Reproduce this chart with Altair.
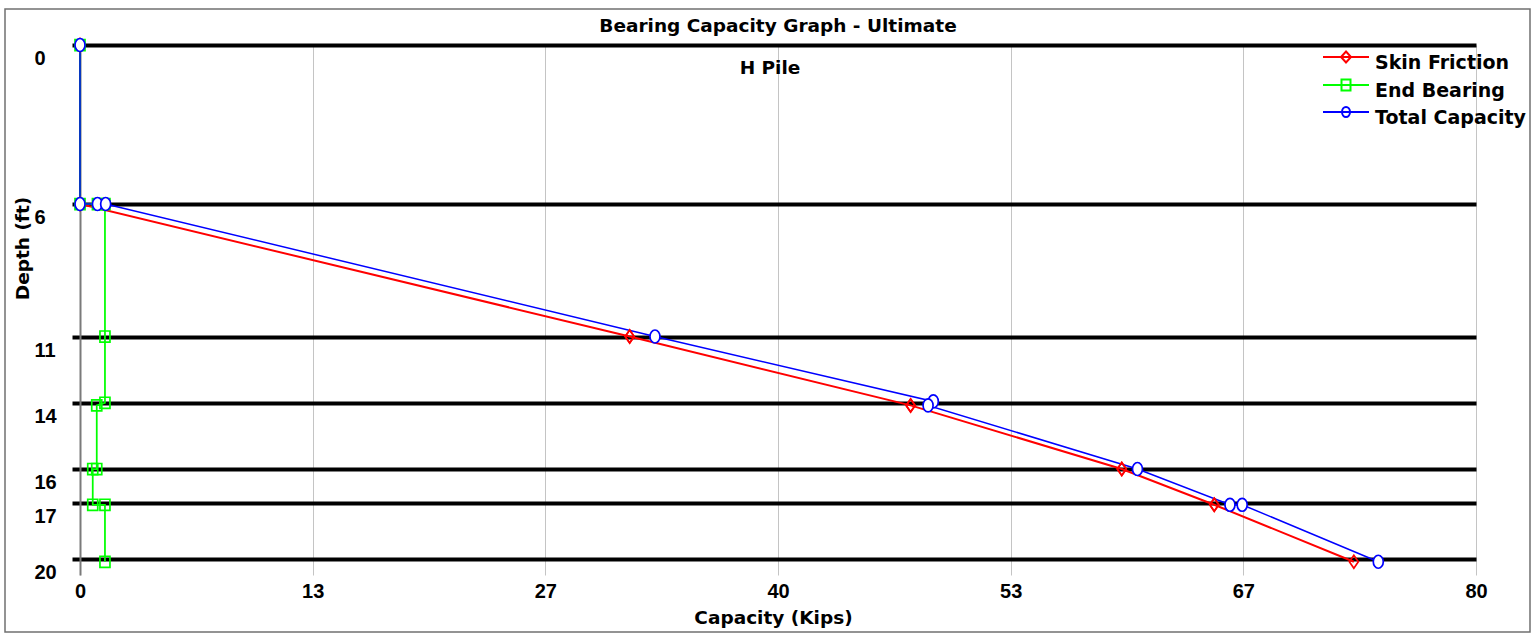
import altair as alt
import pandas as pd

title_text = "Bearing Capacity Graph - Ultimate"
subtitle_text = "H Pile"
x_title = "Capacity (Kips)"
y_title = "Depth (ft)"

series_names = ["Skin Friction", "End Bearing", "Total Capacity"]
series_colors = ["#ff0000", "#00ff00", "#0000ff"]

# soil layer boundaries (ft) and the labels printed for them
layer_depths = [0, 6, 11, 13.5, 16, 17.3, 19.4]
layer_labels = ["0", "6", "11", "14", "16", "17", "20"]

x_ticks = [0, 13.333, 26.667, 40, 53.333, 66.667, 80]

skin_depth = [0, 6, 11, 11, 13.6, 13.6, 16, 16, 17.35, 17.35, 19.5]
skin_kips = [0, 0, 31.5, 31.5, 47.6, 47.6, 59.7, 59.7, 65.0, 65.0, 73.0]

end_depth = [0, 6, 6, 6, 11, 13.5, 13.6, 16, 16, 17.35, 17.35, 19.5]
end_kips = [0, 0, 1.0, 1.43, 1.43, 1.43, 0.96, 0.96, 0.73, 0.73, 1.43, 1.43]

total_depth = [0, 6, 6, 6, 11, 13.45, 13.6, 16, 17.35, 17.35, 19.5]
total_kips = [0, 0, 1.0, 1.47, 32.95, 48.9, 48.6, 60.6, 65.9, 66.6, 74.4]

# marker outlines (diamond, square, ellipse) and legend symbols (line + marker)
marker_paths = [
    "M0,-1L0.69,0L0,1L-0.69,0Z",
    "M-0.77,-0.85H0.77V0.85H-0.77Z",
    "M0,-1A0.77,1 0 1 1 0,1A0.77,1 0 1 1 0,-1Z",
]
legend_paths = [
    "M-2.3,-0.6H2.3M0,-1.15L0.5,-0.6L0,-0.05L-0.5,-0.6Z",
    "M-2.3,-0.6H2.3M-0.45,-1.15H0.45V-0.05H-0.45Z",
    "M-2.3,-0.6H2.3M0,-1.1A0.4,0.5 0 1 1 0,-0.1A0.4,0.5 0 1 1 0,-1.1Z",
]

rows = []
for name, depths, kips in [
    (series_names[0], skin_depth, skin_kips),
    (series_names[1], end_depth, end_kips),
    (series_names[2], total_depth, total_kips),
]:
    for i, (d, k) in enumerate(zip(depths, kips)):
        rows.append({"series": name, "depth": d, "kips": k, "idx": i})
df = pd.DataFrame(rows)

TEXT_FONT = "DejaVu Sans"
NUM_FONT = "Liberation Sans"

x_scale = alt.Scale(domain=[0, 80], nice=False, zero=False)
y_scale = alt.Scale(domain=[0, 20], nice=False, zero=False, reverse=True)

label_expr = "{}[indexof({}, datum.value)]".format(
    "[" + ",".join("'%s'" % s for s in layer_labels) + "]",
    "[" + ",".join(str(v) for v in layer_depths) + "]",
)

x_axis = alt.Axis(
    values=x_ticks, labelExpr="'' + round(datum.value)", title=x_title,
    grid=True, gridColor="#c4c4c4", gridWidth=1, ticks=False, tickSize=0,
    domain=False, labelFont=NUM_FONT, labelFontSize=20, labelFontWeight="bold",
    labelColor="black", labelBaseline="top", labelPadding=6.5, labelFlush=False,
    labelOverlap=False, titleFont=TEXT_FONT, titleFontSize=18.5,
    titleFontWeight="bold", titleColor="black", titleX=693, titleY=48,
    titleBaseline="alphabetic", titleAlign="center",
)
y_axis = alt.Axis(
    values=layer_depths, labelExpr=label_expr, title=y_title,
    grid=True, gridColor="black", gridWidth=4, ticks=True, tickSize=8,
    tickWidth=4, tickColor="black", domain=True, domainColor="#7a7a7a",
    domainWidth=2, labelFont=NUM_FONT, labelFontSize=20, labelFontWeight="bold",
    labelColor="black", labelAlign="left", labelBaseline="top",
    labelPadding=38, labelOffset=3.5, labelFlush=False, labelOverlap=False,
    titleFont=TEXT_FONT, titleFontSize=18.5, titleFontWeight="bold",
    titleColor="black", titleX=-52, titleY=203, titleAngle=270,
    titleBaseline="alphabetic", titleAlign="center",
)

base = alt.Chart(df)
X = alt.X("kips:Q", scale=x_scale, axis=x_axis)
Y = alt.Y("depth:Q", scale=y_scale, axis=y_axis)

lines = base.mark_line().encode(
    x=X, y=Y,
    color=alt.Color("series:N", scale=alt.Scale(domain=series_names, range=series_colors), legend=None),
    strokeWidth=alt.StrokeWidth("series:N", scale=alt.Scale(domain=series_names, range=[2, 1.5, 2]), legend=None),
    order=alt.Order("idx:Q"),
)

points = base.mark_point(filled=False, opacity=1, strokeWidth=1.7, size=169).encode(
    x=X, y=Y,
    color=alt.Color("series:N", scale=alt.Scale(domain=series_names, range=series_colors), legend=None),
    shape=alt.Shape("series:N", scale=alt.Scale(domain=series_names, range=marker_paths), legend=None),
    fill=alt.condition(alt.datum.series == "Total Capacity", alt.value("white"), alt.value("transparent")),
)

leg = alt.Legend(
    title=None, orient="none", legendX=1255, legendY=7, padding=0,
    symbolSize=400, symbolStrokeWidth=2, symbolOpacity=1,
    labelFont=TEXT_FONT, labelFontSize=19, labelFontWeight="bold",
    labelColor="black", labelOffset=18, rowPadding=2,
)
legend_layer = base.mark_point(filled=False, opacity=1).encode(
    color=alt.Color("series:N", scale=alt.Scale(domain=series_names, range=series_colors), legend=leg),
    shape=alt.Shape("series:N", scale=alt.Scale(domain=series_names, range=legend_paths), legend=leg),
).transform_filter("false")

one = pd.DataFrame({"k": [0]})
frame = alt.Chart(one).mark_rect(fill="transparent", stroke="#707070", strokeWidth=1.5).encode(
    x=alt.value(-75), x2=alt.value(1450), y=alt.value(-36), y2=alt.value(587)
)
title_mark = alt.Chart(one).mark_text(
    text=title_text, font=TEXT_FONT, fontSize=18.5, fontWeight="bold",
    color="black", align="center", baseline="alphabetic",
).encode(x=alt.value(698), y=alt.value(-13.3))
subtitle_mark = alt.Chart(one).mark_text(
    text=subtitle_text, font=TEXT_FONT, fontSize=18.5, fontWeight="bold",
    color="black", align="center", baseline="alphabetic",
).encode(x=alt.value(690), y=alt.value(29))

chart = alt.layer(
    frame, lines, points, legend_layer, title_mark, subtitle_mark
).resolve_scale(
    color="independent", shape="independent", strokeWidth="independent"
).properties(
    width=1396, height=530,
    autosize=alt.AutoSizeParams(type="none"),
    padding={"left": 80, "top": 45, "right": 58, "bottom": 60},
    background="white",
).configure_view(stroke=None)

chart.save("out.html", embed_options={"renderer": "svg", "actions": False})
